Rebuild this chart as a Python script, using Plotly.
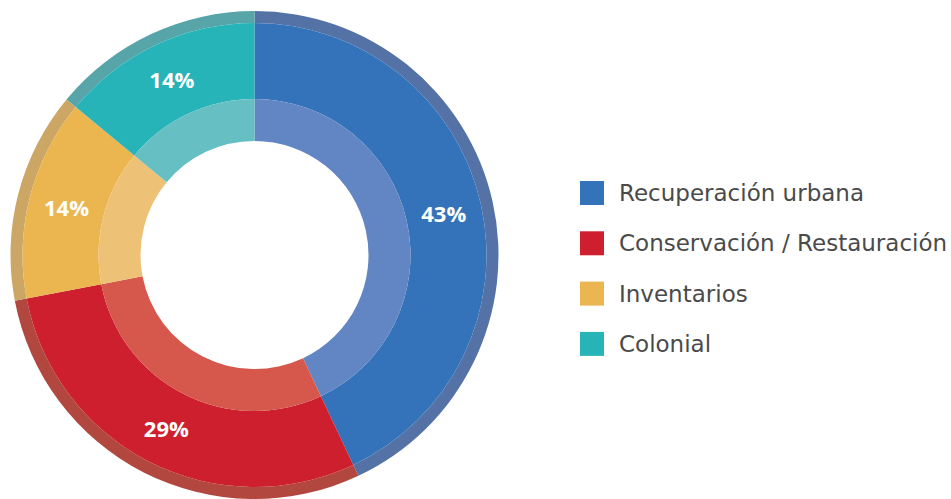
import plotly.graph_objects as go

categories = ["Recuperación urbana", "Conservación / Restauración", "Inventarios", "Colonial"]
values = [43, 29, 14, 14]
labels_pct = ["43%", "29%", "14%", "14%"]

main_colors = ["#3473B9", "#CD1F2E", "#EBB54F", "#27B4B9"]
outer_colors = ["#5472A6", "#B2473F", "#CBA664", "#57A5A8"]
inner_colors = ["#6186C3", "#D6574B", "#EEC276", "#66BFC3"]

W, H = 951, 499
cx, cy = 254.5, 255.0
r_outer, r_main, r_inner, r_hole = 244.0, 232.0, 156.0, 114.0


def dom(r):
    return dict(x=[(cx - r) / W, (cx + r) / W],
                y=[(H - cy - r) / H, (H - cy + r) / H])


common = dict(labels=categories, values=values, sort=False, direction="clockwise",
              rotation=0, showlegend=False, hoverinfo="label+percent")

fig = go.Figure()
fig.add_trace(go.Pie(**common, domain=dom(r_outer), hole=r_main / r_outer,
                     marker=dict(colors=outer_colors, line=dict(width=0)),
                     textinfo="none"))
fig.add_trace(go.Pie(**common, domain=dom(r_main), hole=r_inner / r_main,
                     marker=dict(colors=main_colors, line=dict(width=0)),
                     text=labels_pct, textinfo="text", textposition="inside",
                     insidetextorientation="horizontal",
                     textfont=dict(family="'Open Sans', sans-serif",
                                   size=22, color="white", weight="bold")))
fig.add_trace(go.Pie(**common, domain=dom(r_inner), hole=r_hole / r_inner,
                     marker=dict(colors=inner_colors, line=dict(width=0)),
                     textinfo="none"))

# legend built from the category list
shapes, annotations = [], []
lx0, ly0, step, sq = 580, 193, 50.3, 24
for i, (name, col) in enumerate(zip(categories, main_colors)):
    yc = ly0 + i * step
    shapes.append(dict(type="rect", xref="paper", yref="paper",
                       x0=lx0 / W, x1=(lx0 + sq) / W,
                       y0=(H - yc - sq / 2) / H, y1=(H - yc + sq / 2) / H,
                       fillcolor=col, line=dict(width=0)))
    annotations.append(dict(text=name, xref="paper", yref="paper",
                            x=(lx0 + 37) / W, y=(H - yc) / H,
                            xanchor="left", yanchor="middle", showarrow=False,
                            font=dict(family="'DejaVu Sans', sans-serif", size=23,
                                      color="#4A4A4A")))

fig.update_layout(width=W, height=H, margin=dict(l=0, r=0, t=0, b=0),
                  paper_bgcolor="white", plot_bgcolor="white",
                  shapes=shapes, annotations=annotations)

fig.write_html("out.html")
